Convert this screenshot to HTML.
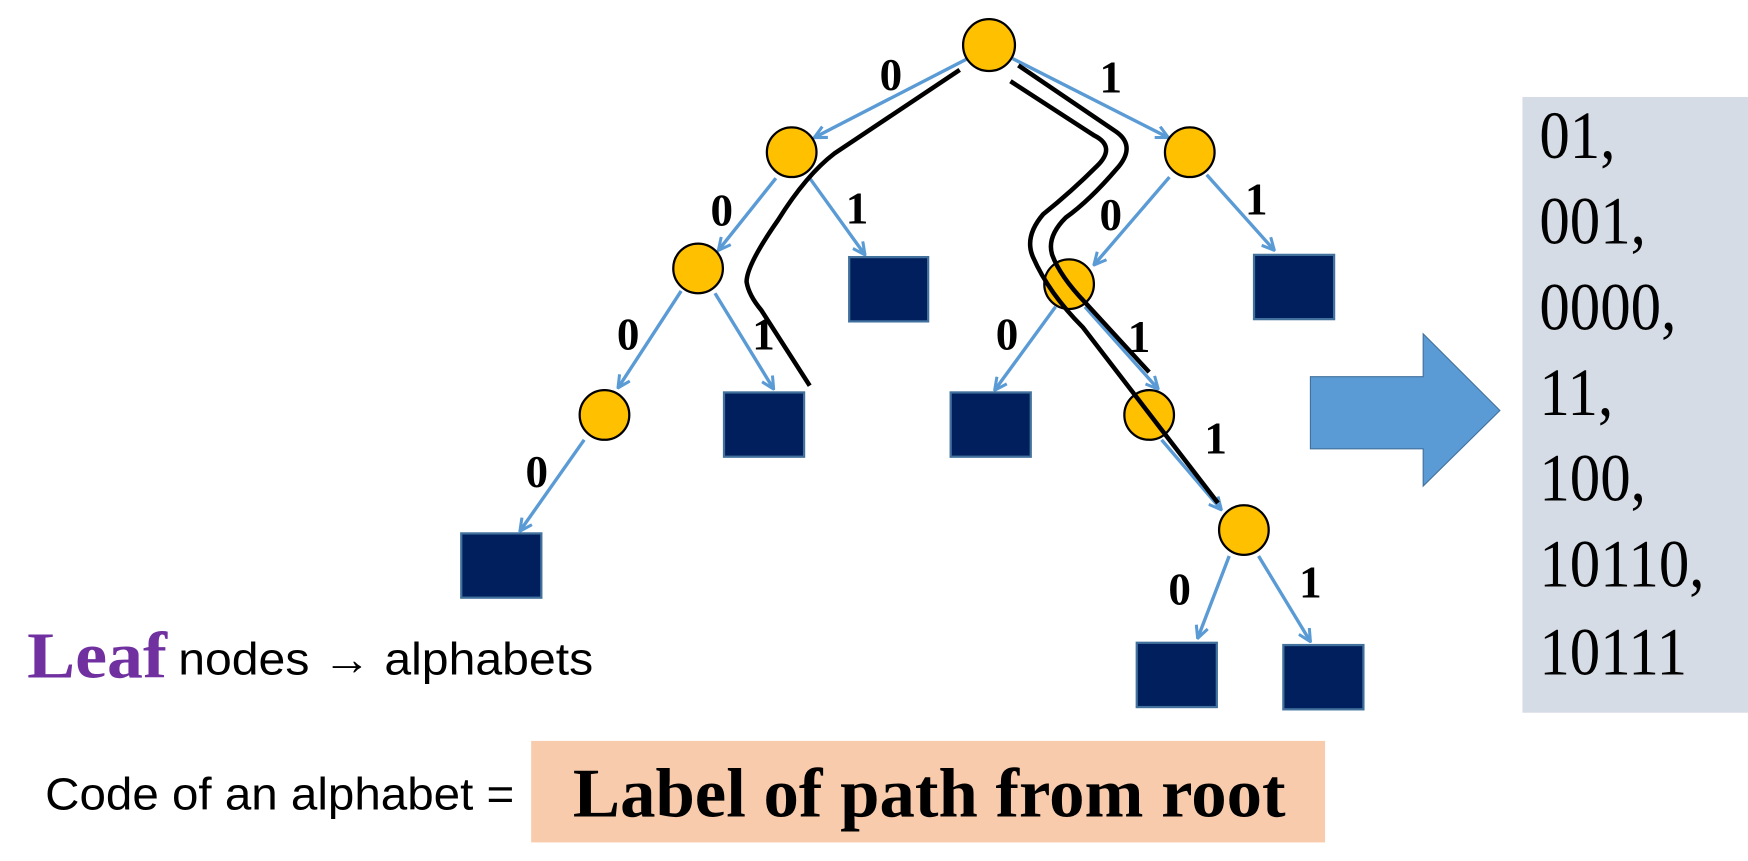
<!DOCTYPE html>
<html><head><meta charset="utf-8"><style>html,body{margin:0;padding:0;background:#fff;width:1748px;height:861px;overflow:hidden}</style></head>
<body>
<svg width="1748" height="861" viewBox="0 0 1550 763.5" xmlns="http://www.w3.org/2000/svg">
<defs>
<marker id="a" viewBox="0 0 12 12" refX="11" refY="6" markerWidth="13" markerHeight="13" markerUnits="userSpaceOnUse" orient="auto"><path d="M1,1 L11,6 L1,11" fill="none" stroke="#5B9BD5" stroke-width="2.5"/></marker>
</defs>
<g stroke="#5B9BD5" stroke-width="3" fill="none" marker-end="url(#a)">
<line x1="858" y1="52" x2="722" y2="122"/>
<line x1="898" y1="52" x2="1036" y2="122"/>
<line x1="688" y1="158" x2="637" y2="222"/>
<line x1="718" y1="158" x2="767" y2="226"/>
<line x1="604" y1="258" x2="548" y2="344"/>
<line x1="634" y1="260" x2="686" y2="345"/>
<line x1="518" y1="390" x2="461" y2="471"/>
<line x1="1037" y1="157" x2="970" y2="235"/>
<line x1="1070" y1="155" x2="1130" y2="222"/>
<line x1="936" y1="272" x2="882" y2="346"/>
<line x1="962" y1="272" x2="1027" y2="345"/>
<line x1="1030" y1="390" x2="1083" y2="452"/>
<line x1="1090" y1="493" x2="1062" y2="566"/>
<line x1="1116" y1="493" x2="1162" y2="569"/>
</g>
<g fill="#FFC000" stroke="#000" stroke-width="2">
<ellipse cx="877" cy="40" rx="23" ry="23"/>
<ellipse cx="702" cy="135" rx="22" ry="22"/>
<ellipse cx="1055" cy="135" rx="22" ry="22"/>
<ellipse cx="619" cy="238" rx="22" ry="22"/>
<ellipse cx="536" cy="368" rx="22" ry="22"/>
<ellipse cx="948" cy="252" rx="22" ry="22"/>
<ellipse cx="1019" cy="368" rx="22" ry="22"/>
<ellipse cx="1103" cy="470" rx="22" ry="22"/>
</g>
<g fill="#001F5C" stroke="#41719C" stroke-width="2">
<rect x="753" y="228" width="70" height="57"/>
<rect x="642" y="348" width="71" height="57"/>
<rect x="409" y="473" width="71" height="57"/>
<rect x="1112" y="226" width="71" height="57"/>
<rect x="843" y="348" width="71" height="57"/>
<rect x="1008" y="570" width="71" height="57"/>
<rect x="1138" y="572" width="71" height="57"/>
</g>
<g stroke="#000" stroke-width="4" fill="none" stroke-linejoin="round">
<path d="M851,62 L740,136 Q715,155 690,195 Q662,235 662,250 Q664,262 675,275 L718,342"/>
<path d="M903,58 L990,117 Q1008,130 990,150 Q966,178 945,193 Q928,210 933,226 Q940,245 962,268 L1019,330"/>
<path d="M896,72 L970,120 Q990,130 973,147 Q950,170 925,190 Q908,210 916,228 Q930,260 960,290 L1080,446"/>
</g>
<g font-family="Liberation Serif, serif" font-weight="bold" font-size="40" fill="#000" text-anchor="middle">
<text x="790" y="80">0</text><text x="985" y="82">1</text>
<text x="640" y="200">0</text><text x="760" y="198">1</text>
<text x="557" y="310">0</text><text x="677" y="310">1</text>
<text x="476" y="432">0</text>
<text x="985" y="204">0</text><text x="1114" y="190">1</text>
<text x="893" y="310">0</text><text x="1010" y="312">1</text>
<text x="1078" y="402">1</text>
<text x="1046" y="536">0</text><text x="1162" y="530">1</text>
</g>
<path d="M1162,334 L1262,334 L1262,296 L1330,364 L1262,431 L1262,398 L1162,398 Z" fill="#5B9BD5" stroke="#41719C" stroke-width="1"/>
<rect x="1350" y="86" width="200" height="546" fill="#D6DCE5"/>
<g font-family="Liberation Serif, serif" font-size="60" fill="#000" transform="translate(1365,0) scale(0.9,1)">
<text x="0" y="140">01,</text>
<text x="0" y="216">001,</text>
<text x="0" y="292">0000,</text>
<text x="0" y="368">11,</text>
<text x="0" y="444">100,</text>
<text x="0" y="520">10110,</text>
<text x="0" y="598">10111</text>
</g>
<text x="24" y="601" font-family="Liberation Serif, serif" font-weight="bold" font-size="58" fill="#7030A0" textLength="124" lengthAdjust="spacingAndGlyphs">Leaf</text>
<text x="158" y="598" font-family="Liberation Sans, sans-serif" font-size="40" fill="#000" textLength="368" lengthAdjust="spacingAndGlyphs">nodes <tspan font-weight="bold">→</tspan> alphabets</text>
<text x="40" y="718" font-family="Liberation Sans, sans-serif" font-size="40" fill="#000" textLength="416" lengthAdjust="spacingAndGlyphs">Code of an alphabet =</text>
<rect x="471" y="657" width="704" height="90" fill="#F8CBAD"/>
<text x="508" y="724" font-family="Liberation Serif, serif" font-weight="bold" font-size="62" fill="#000" textLength="632" lengthAdjust="spacingAndGlyphs">Label of path from root</text>
</svg>
</body></html>
